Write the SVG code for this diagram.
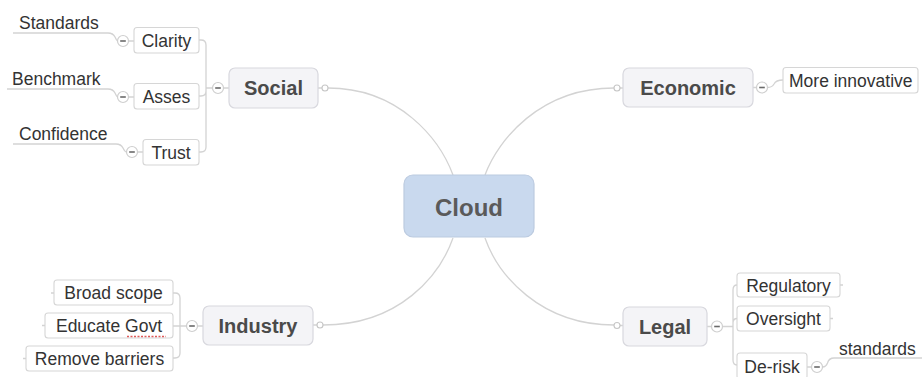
<svg xmlns="http://www.w3.org/2000/svg" width="922" height="377" viewBox="0 0 922 377">
<style>
.bg{fill:#ffffff}
.main{fill:#f4f4f7;stroke:#d8d8de;stroke-width:1.2}
.root{fill:#c9d9ee;stroke:#bccbe0;stroke-width:1.2}
.sub{fill:#ffffff;stroke:#d6d6d6;stroke-width:1.1}
.ln{fill:none;stroke:#d3d3d3;stroke-width:1.3}
.dot{fill:#ffffff;stroke:#c6c6c6;stroke-width:1.1}
.mc{fill:#ffffff;stroke:#cfcfcf;stroke-width:1.2}
.mm{stroke:#6a6a6a;stroke-width:1.6}
.tm{font-family:"Liberation Sans",Arial,sans-serif;font-weight:bold;font-size:20px;fill:#4a4a4a;text-anchor:middle}
.tr{font-family:"Liberation Sans",Arial,sans-serif;font-weight:bold;font-size:24px;fill:#5a5a5a;text-anchor:middle}
.ts{font-family:"Liberation Sans",Arial,sans-serif;font-size:17.5px;fill:#333333;text-anchor:middle}
.tl{font-family:"Liberation Sans",Arial,sans-serif;font-size:17.5px;fill:#333333}
</style>
<defs>
<g id="minus"><circle r="5.5" class="mc"/><line x1="-2.8" y1="0" x2="2.8" y2="0" class="mm"/></g>
</defs>
<rect class="bg" x="0" y="0" width="922" height="377"/>

<g id="connectors">
<path class="ln" d="M328,88 C400,88 440,140 453,175"/>
<path class="ln" d="M614,88 C540,88 498,140 485,175"/>
<path class="ln" d="M453,238 C440,275 400,325 323,325"/>
<path class="ln" d="M485,238 C498,275 540,325 614,325"/>
<path class="ln" d="M318,88 H322 M620,88 H623 M313,325 H317 M620,325.5 H623"/>
<!-- Social branch -->
<path class="ln" d="M229,88 H223.5 M212.5,88 H206 V45 Q206,40 201,40 H199 M206,88 V91 Q206,96 201,96 H199 M206,88 V147 Q206,152 201,152 H199"/>
<path class="ln" d="M128.5,41 H134 M128.5,97 H134 M137.5,152 H143"/>
<path class="ln" d="M13,33 H108 Q113,33 115,37 Q117,41 117.5,41"/>
<path class="ln" d="M7,89 H108 Q113,89 115,93 Q117,97 117.5,97"/>
<path class="ln" d="M13,144 H116 Q121,144 123,148 Q125,152 126.5,152"/>
<!-- Economic branch -->
<path class="ln" d="M753,87.5 H756.5 M767.5,87.5 Q772,87.5 774,84 Q776,80 783,80"/>
<!-- Industry branch -->
<path class="ln" d="M203,326 H197.5 M186.5,326 H180 V298 Q180,293 175,293 H173 M180,326 H173 M180,326 V353 Q180,358 175,358 H173"/>
<path class="ln" d="M51,293 H54 M42,325.5 H45 M23,358.5 H26"/>
<!-- Legal branch -->
<path class="ln" d="M707,326.5 H711.5 M722.5,326.5 H733 V290 Q733,285 737,285 M733,326.5 V323 Q733,318.5 737,318.5 M733,326.5 V360 Q733,365 737,365"/>
<path class="ln" d="M840,285 H843 M830,318.5 H833"/>
<path class="ln" d="M807,367 H811.5 M822.5,367 Q826,367 827.5,363 Q829,358 834,358 H922"/>
</g>

<g id="cloud">
<rect class="root" x="404" y="175" width="130" height="62" rx="9"/>
<text class="tr" x="469" y="216">Cloud</text>
</g>

<g id="social">
<rect class="main" x="229" y="68" width="89" height="40" rx="6"/>
<text class="tm" x="273.5" y="95">Social</text>
<circle class="dot" cx="325" cy="88" r="3"/>
<use href="#minus" x="218" y="88"/>
</g>
<g id="clarity">
<rect class="sub" x="134" y="27.5" width="65" height="25.5" rx="3"/>
<text class="ts" x="166.5" y="46.5">Clarity</text>
<use href="#minus" x="123" y="41"/>
</g>
<g id="asses">
<rect class="sub" x="134" y="83.5" width="65" height="25.5" rx="3"/>
<text class="ts" x="166.5" y="102.5">Asses</text>
<use href="#minus" x="123" y="97"/>
</g>
<g id="trust">
<rect class="sub" x="143" y="139.5" width="56" height="25.5" rx="3"/>
<text class="ts" x="171" y="158.5">Trust</text>
<use href="#minus" x="132" y="152"/>
</g>
<g id="standards-left"><text class="tl" x="19" y="28.5">Standards</text></g>
<g id="benchmark"><text class="tl" x="12" y="84.5">Benchmark</text></g>
<g id="confidence"><text class="tl" x="19" y="140">Confidence</text></g>

<g id="economic">
<rect class="main" x="623" y="68" width="130" height="39" rx="6"/>
<text class="tm" x="688" y="95">Economic</text>
<circle class="dot" cx="617" cy="88" r="3"/>
<use href="#minus" x="762" y="87.5"/>
</g>
<g id="more-innovative">
<rect class="sub" x="783" y="67.5" width="135" height="25.5" rx="3"/>
<text class="tl" x="789" y="86.5">More innovative</text>
</g>

<g id="industry">
<rect class="main" x="203" y="306" width="110" height="39" rx="6"/>
<text class="tm" x="258" y="333">Industry</text>
<circle class="dot" cx="320" cy="325" r="3"/>
<use href="#minus" x="192" y="326"/>
</g>
<g id="broad-scope">
<rect class="sub" x="54" y="280" width="119" height="25" rx="3"/>
<text class="ts" x="113.5" y="299">Broad scope</text>
</g>
<g id="educate-govt">
<rect class="sub" x="45" y="313" width="128" height="25" rx="3"/>
<text class="ts" x="109" y="332">Educate Govt</text>
<line x1="127" y1="336.5" x2="166" y2="336.5" stroke="#e05a5a" stroke-width="1.6" stroke-dasharray="2,1.5"/>
</g>
<g id="remove-barriers">
<rect class="sub" x="26" y="346" width="147" height="25" rx="3"/>
<text class="ts" x="99.5" y="365">Remove barriers</text>
</g>

<g id="legal">
<rect class="main" x="623" y="307" width="84" height="39" rx="6"/>
<text class="tm" x="665" y="334">Legal</text>
<circle class="dot" cx="617" cy="325.5" r="3"/>
<use href="#minus" x="717" y="326.5"/>
</g>
<g id="regulatory">
<rect class="sub" x="737" y="273" width="103" height="24" rx="3"/>
<text class="ts" x="788.5" y="291.5">Regulatory</text>
</g>
<g id="oversight">
<rect class="sub" x="737" y="306" width="93" height="25" rx="3"/>
<text class="ts" x="783.5" y="325">Oversight</text>
</g>
<g id="de-risk">
<rect class="sub" x="737" y="353" width="70" height="26" rx="3"/>
<text class="ts" x="772" y="373">De-risk</text>
<use href="#minus" x="817" y="367"/>
</g>
<g id="standards-right"><text class="tl" x="839" y="355">standards</text></g>
</svg>
